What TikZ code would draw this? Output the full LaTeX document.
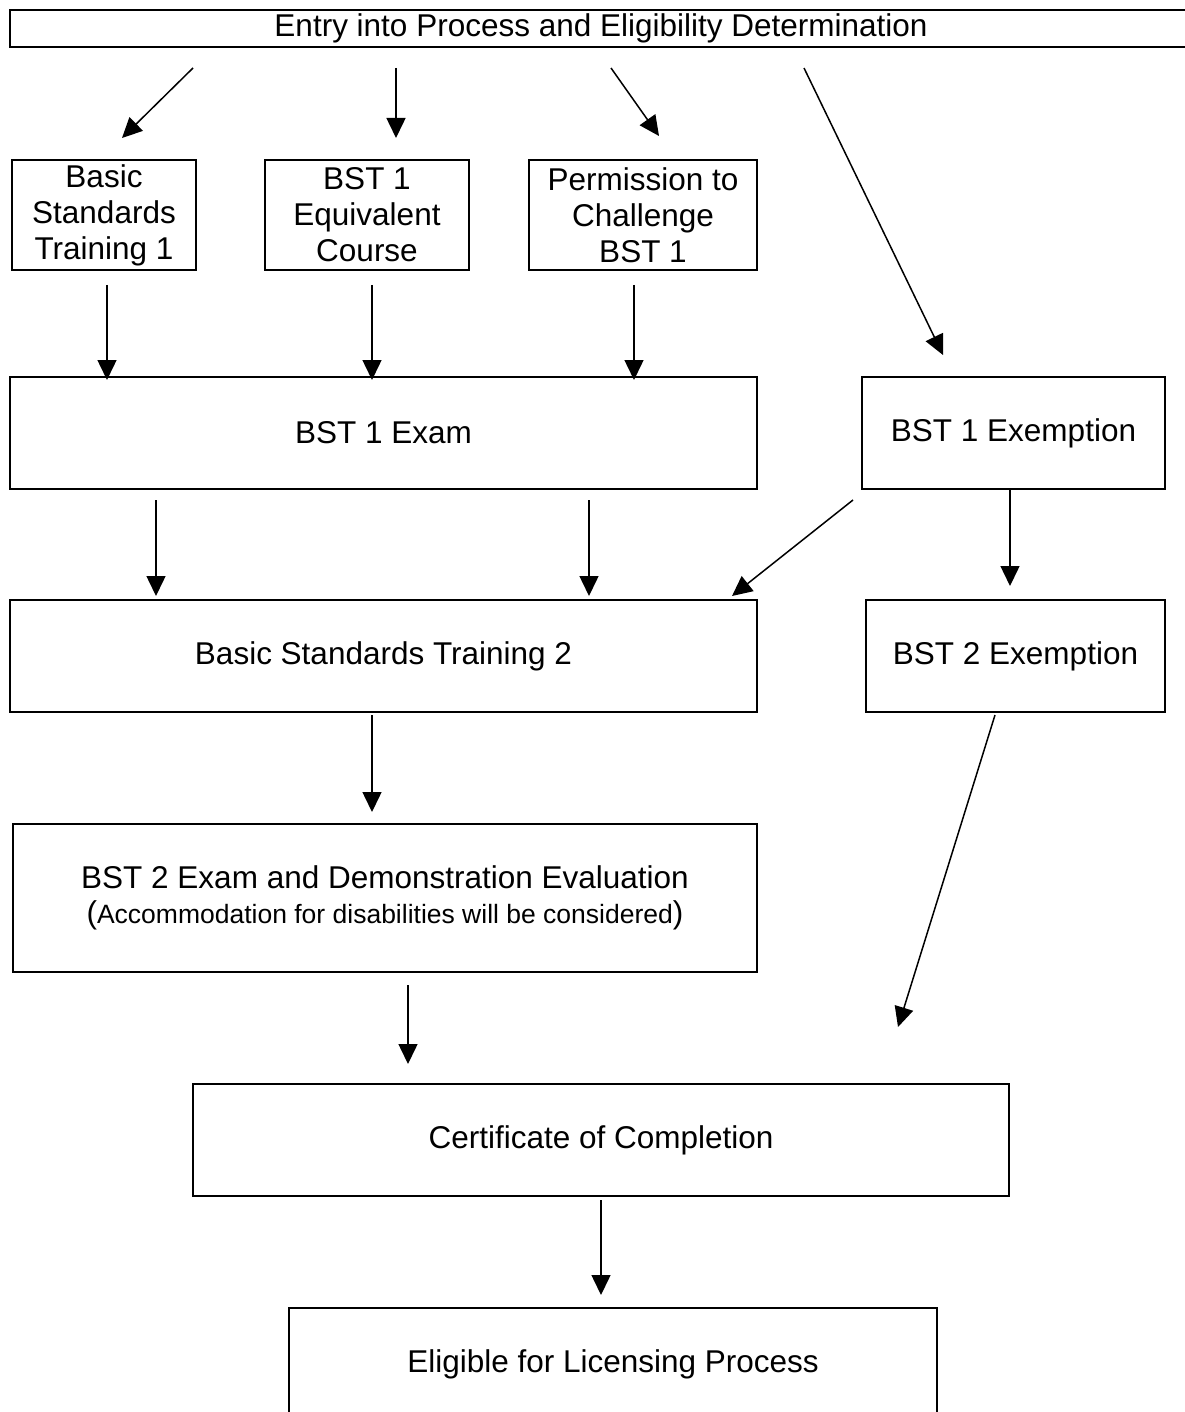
\documentclass[tikz,border=0pt]{standalone}
\usepackage{fontspec}
\setmainfont{Liberation Sans}
\usetikzlibrary{arrows.meta}

\tikzset{
  stagebox/.style={draw, line width=2.2pt, align=center, inner sep=0pt,
    font=\fontsize{31.5}{36}\selectfont},
  flow/.style={line width=1.5pt, -{Triangle[length=20pt,width=19pt]}},
}
\newcommand{\smallnote}[1]{(\fontsize{26.5}{30}\selectfont #1\fontsize{31.5}{36}\selectfont)}

\begin{document}
\begin{tikzpicture}[x=1pt,y=1pt,yscale=-1]
\useasboundingbox (0,0) rectangle (1184,1412);

% Boxes
\node[stagebox, minimum width=1182pt, minimum height=37pt] (entry) at (601,28.5) {Entry into Process and Eligibility Determination};
\node[stagebox, minimum width=184pt, minimum height=110pt] (bstone) at (104,215) {Basic\\Standards\\Training 1};
\node[stagebox, minimum width=204pt, minimum height=110pt] (equiv) at (367,215) {BST 1\\Equivalent\\Course};
\node[stagebox, minimum width=228pt, minimum height=110pt] (challenge) at (643,215) {Permission to\\Challenge\\BST 1};
\node[stagebox, minimum width=747pt, minimum height=112pt] (examone) at (383.5,433) {BST 1 Exam};
\node[stagebox, minimum width=303pt, minimum height=112pt] (exemptone) at (1013.5,433) {BST 1 Exemption};
\node[stagebox, minimum width=747pt, minimum height=112pt] (bsttwo) at (383.5,656) {Basic Standards Training 2};
\node[stagebox, minimum width=299pt, minimum height=112pt] (exempttwo) at (1015.5,656) {BST 2 Exemption};
\node[stagebox, minimum width=744pt, minimum height=148pt] (examtwo) at (385,898) {BST 2 Exam and Demonstration Evaluation\\[-1pt]\smallnote{Accommodation for disabilities will be considered}};
\node[stagebox, minimum width=816pt, minimum height=112pt] (cert) at (601,1140) {Certificate of Completion};
\node[stagebox, minimum width=648pt, minimum height=112pt] (eligible) at (613,1364) {Eligible for Licensing Process};

% Arrow ends
\coordinate (a1s) at (193,68);   \coordinate (a1t) at (122,138);
\coordinate (a2s) at (396,68);   \coordinate (a2t) at (396,138);
\coordinate (a3s) at (611,68);   \coordinate (a3t) at (659,136);
\coordinate (a4s) at (804,68);   \coordinate (a4t) at (943,355);
\coordinate (b1s) at (107,285);  \coordinate (b1t) at (107,380);
\coordinate (b2s) at (372,285);  \coordinate (b2t) at (372,380);
\coordinate (b3s) at (634,285);  \coordinate (b3t) at (634,380);
\coordinate (c1s) at (156,500);  \coordinate (c1t) at (156,596);
\coordinate (c2s) at (589,500);  \coordinate (c2t) at (589,596);
\coordinate (c3s) at (853,500);  \coordinate (c3t) at (732,596);
\coordinate (c4s) at (1010,490); \coordinate (c4t) at (1010,586);
\coordinate (d1s) at (372,715);  \coordinate (d1t) at (372,812);
\coordinate (d2s) at (995,715);  \coordinate (d2t) at (898,1027);
\coordinate (e1s) at (408,985);  \coordinate (e1t) at (408,1064);
\coordinate (f1s) at (601,1200); \coordinate (f1t) at (601,1295);

% Arrows
\draw[flow] (a1s) -- (a1t);
\draw[flow] (a2s) -- (a2t);
\draw[flow] (a3s) -- (a3t);
\draw[flow] (a4s) -- (a4t);
\draw[flow] (b1s) -- (b1t);
\draw[flow] (b2s) -- (b2t);
\draw[flow] (b3s) -- (b3t);
\draw[flow] (c1s) -- (c1t);
\draw[flow] (c2s) -- (c2t);
\draw[flow] (c3s) -- (c3t);
\draw[flow] (c4s) -- (c4t);
\draw[flow] (d1s) -- (d1t);
\draw[flow] (d2s) -- (d2t);
\draw[flow] (e1s) -- (e1t);
\draw[flow] (f1s) -- (f1t);

\end{tikzpicture}
\end{document}
